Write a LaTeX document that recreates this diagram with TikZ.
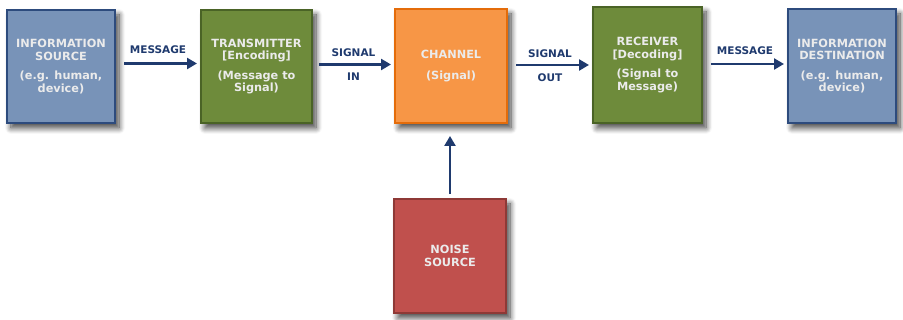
\documentclass[tikz,border=0pt]{standalone}
\usepackage{fontspec}
\setmainfont{DejaVu Sans}
\usepackage{tikz}
\usetikzlibrary{arrows.meta, shadows.blur}

\definecolor{srcfill}{HTML}{7893B8}
\definecolor{srcline}{HTML}{2D4B7D}
\definecolor{encfill}{HTML}{6E8B3B}
\definecolor{encline}{HTML}{4A6326}
\definecolor{chanfill}{HTML}{F79646}
\definecolor{chanline}{HTML}{E46C0A}
\definecolor{noisefill}{HTML}{C0504D}
\definecolor{noiseline}{HTML}{8E3936}
\definecolor{navy}{HTML}{1F3A6E}

\begin{document}
\begin{tikzpicture}[x = 1pt, y = 1pt,
		block/.style = {draw, line width = 2pt, align = center, text = white!92!black,
			font = \fontsize{11.3}{12.5}\selectfont\bfseries,
			blur shadow = {shadow xshift = 4pt, shadow yshift = -5pt, shadow opacity = 75, shadow blur steps = 10, shadow blur radius = 6pt}},
		flow/.style = {-{Triangle[length = 10pt, width = 11pt]}, line width = 2.4pt, draw = navy},
		tag/.style = {text = navy, font = \fontsize{10.5}{12}\selectfont\bfseries}]
	\useasboundingbox (0,0) rectangle (903,320);
	% top row of blocks
	\node[block, fill = srcfill, draw = srcline, minimum width = 108pt, minimum height = 113pt] (src) at (61,253.5) {INFORMATION\\SOURCE\\[7pt](e.g. human,\\device)};
	\node[block, fill = encfill, draw = encline, minimum width = 111pt, minimum height = 113pt] (tx) at (256.5,253.5) {TRANSMITTER\\{}[Encoding]\\[7pt](Message to\\Signal)};
	\node[block, fill = chanfill, draw = chanline, minimum width = 112pt, minimum height = 114pt] (ch) at (451,254) {CHANNEL\\[8pt](Signal)};
	\node[block, fill = encfill, draw = encline, minimum width = 109pt, minimum height = 116pt] (rx) at (647.5,255) {RECEIVER\\{}[Decoding]\\[7pt](Signal to\\Message)};
	\node[block, fill = srcfill, draw = srcline, minimum width = 108pt, minimum height = 114pt] (dst) at (842,254) {INFORMATION\\DESTINATION\\[7pt](e.g. human,\\device)};
	% noise below the channel
	\node[block, fill = noisefill, draw = noiseline, minimum width = 112pt, minimum height = 114pt] (noise) at (450,64) {NOISE\\SOURCE};
	% connectors
	\draw[flow, shorten <= 8pt, shorten >= 3pt] ([yshift = 3pt] src.east) -- ([yshift = 3pt] tx.west) node[tag, midway, above = 5pt] {MESSAGE};
	\draw[flow, shorten <= 6pt, shorten >= 3pt] ([yshift = 2pt] tx.east) -- ([yshift = 2pt] tx.east -| ch.west) node[tag, midway, above = 3pt] {SIGNAL} node[tag, midway, below = 4pt] {IN};
	\draw[flow, shorten <= 8pt, shorten >= 3pt] ([yshift = 1pt] ch.east) -- ([yshift = 1pt] ch.east -| rx.west) node[tag, midway, above = 3pt] {SIGNAL} node[tag, midway, below = 4pt] {OUT};
	\draw[flow, shorten <= 8pt, shorten >= 3pt] ([yshift = 1pt] rx.east) -- ([yshift = 1pt] rx.east -| dst.west) node[tag, midway, above = 5pt] {MESSAGE};
	\draw[flow, shorten <= 4pt, shorten >= 12pt] (noise.north) -- (noise.north |- ch.south);
\end{tikzpicture}
\end{document}
